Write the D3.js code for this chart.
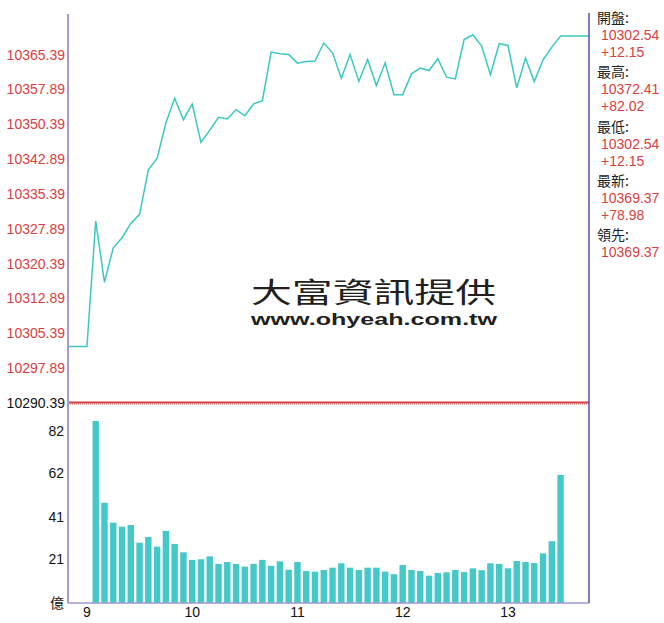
<!DOCTYPE html>
<html>
<head>
<meta charset="utf-8">
<script src="https://cdn.jsdelivr.net/npm/d3@7"></script>
<style>
    body { margin: 0; background: #fff; }
    text { font-family: "Liberation Sans", Arial, sans-serif; }
    .cjk { font-family: "Noto Sans CJK TC", "Noto Sans CJK SC", sans-serif; }
</style>
</head>
<body>
<div class="canvas"></div>
<script>
// Datas
const times = [
    '09:05', '09:10', '09:15', '09:20', '09:25', '09:30', '09:35', '09:40', '09:45', '09:50', '09:55',
    '10:00', '10:05', '10:10', '10:15', '10:20', '10:25', '10:30', '10:35', '10:40', '10:45', '10:50', '10:55',
    '11:00', '11:05', '11:10', '11:15', '11:20', '11:25', '11:30', '11:35', '11:40', '11:45', '11:50', '11:55',
    '12:00', '12:05', '12:10', '12:15', '12:20', '12:25', '12:30', '12:35', '12:40', '12:45', '12:50', '12:55',
    '13:00', '13:05', '13:10', '13:15', '13:20', '13:25', '13:30'
];
const prices = [
    10329.54, 10316.37, 10323.79, 10325.95, 10329.04, 10330.99, 10340.55, 10343.01, 10350.64, 10355.97, 10351.35,
    10354.74, 10346.47, 10349.12, 10351.87, 10351.50, 10353.51, 10352.21, 10354.74, 10355.45, 10365.90, 10365.54, 10365.39,
    10363.53, 10363.87, 10363.96, 10367.85, 10365.75, 10360.29, 10365.39, 10359.60, 10364.31, 10358.69, 10363.59, 10356.75,
    10356.75, 10361.22, 10362.45, 10361.93, 10364.46, 10360.50, 10360.14, 10368.62, 10369.64, 10367.20, 10361.07, 10367.70,
    10367.33, 10358.19, 10364.61, 10359.55, 10364.24, 10366.98, 10369.37
];
const volumes = [
    86.6, 47.7, 38.2, 36.3, 37.1, 28.7, 31.4, 26.8, 34.3, 28.1, 24.1,
    20.5, 20.8, 22.2, 18.6, 19.5, 18.6, 17.3, 18.6, 20.5, 17.7, 19.8,
    15.8, 19.5, 15.2, 14.9, 15.7, 16.8, 18.9, 16.8, 15.7, 16.8, 16.8,
    14.9, 13.7, 18.1, 15.7, 15.2, 13.0, 14.3, 14.6, 15.7, 14.7, 16.5,
    15.6, 18.9, 18.6, 16.5, 20.0, 19.5, 19.0, 23.6, 29.4, 60.9
];
const openPrice = 10302.54;
const refPrice = 10290.39;
const priceTicks = [10297.89, 10305.39, 10312.89, 10320.39, 10327.89, 10335.39, 10342.89, 10350.39, 10357.89, 10365.39];
const volTicks = [21, 41, 62, 82];
const hourTicks = ['09:00', '10:00', '11:00', '12:00', '13:00'];
const hourLabels = ['9', '10', '11', '12', '13'];
const infoLabels = ['開盤:', '最高:', '最低:', '最新:', '領先:'];
const infoValues = ['10302.54', '10372.41', '10302.54', '10369.37', '10369.37'];
const infoChanges = ['+12.15', '+82.02', '+12.15', '+78.98', ''];

const app = {
    dims: {
        svgWidth: 664,
        svgHeight: 623,
        left: 68,
        right: 589,
        top: 14,
        refY: 403,
        bottom: 603,
        volTop: 430.2
    },
    red: '#d8403f',
    teal: '#44c8c8',

    // minutes after 9:00
    toMin: function(s) {
        const [h, m] = s.split(':').map(Number);
        return (h - 9) * 60 + m;
    },

    init: function() {
        const d = app.dims;
        const svg = d3.select('.canvas').append('svg')
            .attr('width', d.svgWidth)
            .attr('height', d.svgHeight);

        // Scales
        const x = d3.scaleLinear().domain([-10.8, 286.2]).range([d.left, d.right]);
        const yP = d3.scaleLinear().domain([refPrice, 10374.1]).range([d.refY, d.top]);
        const yV = d3.scaleLinear().domain([0, 82.2]).range([d.bottom, d.volTop]);

        // Watermark
        svg.append('text').attr('class', 'cjk')
            .attr('x', 251).attr('y', 303)
            .attr('font-size', 28)
            .attr('fill', '#231f20')
            .attr('textLength', 245)
            .attr('lengthAdjust', 'spacingAndGlyphs')
            .text('大富資訊提供');
        svg.append('text')
            .attr('x', 251).attr('y', 325)
            .attr('font-family', 'DejaVu Sans')
            .attr('font-weight', 'bold')
            .attr('font-size', 16)
            .attr('fill', '#231f20')
            .attr('textLength', 246)
            .attr('lengthAdjust', 'spacingAndGlyphs')
            .text('www.ohyeah.com.tw');

        // Volume bars
        svg.append('g').selectAll('rect')
            .data(volumes)
            .enter()
            .append('rect')
            .attr('x', (v, i) => x(app.toMin(times[i])) - 3.2)
            .attr('width', 6.4)
            .attr('y', v => yV(v))
            .attr('height', v => yV(0) - yV(v))
            .attr('fill', app.teal);

        // Price line
        const lineData = [{ t: x.domain()[0], v: openPrice }, { t: 0, v: openPrice }];
        prices.forEach((p, i) => lineData.push({ t: app.toMin(times[i]), v: p }));
        lineData.push({ t: x.domain()[1], v: prices[prices.length - 1] });

        svg.append('path')
            .datum(lineData)
            .attr('fill', 'none')
            .attr('stroke', '#3cc8c2')
            .attr('stroke-width', 1.5)
            .attr('d', d3.line().x(p => x(p.t)).y(p => yP(p.v)));

        // Reference line
        svg.append('line')
            .attr('x1', d.left).attr('x2', d.right)
            .attr('y1', yP(refPrice) - 0.5).attr('y2', yP(refPrice) - 0.5)
            .attr('stroke', app.red).attr('stroke-width', 2);
        svg.append('line')
            .attr('x1', d.left).attr('x2', d.right)
            .attr('y1', yP(refPrice) + 1).attr('y2', yP(refPrice) + 1)
            .attr('stroke', '#b85050').attr('stroke-width', 1)
            .attr('stroke-dasharray', '1,1');

        // Axes lines
        svg.append('line')
            .attr('x1', d.left).attr('x2', d.left)
            .attr('y1', d.top).attr('y2', d.bottom)
            .attr('stroke', '#a39ad8').attr('stroke-width', 2);
        svg.append('line')
            .attr('x1', d.left).attr('x2', d.right)
            .attr('y1', d.bottom).attr('y2', d.bottom)
            .attr('stroke', '#9d97d6').attr('stroke-width', 1.5);
        svg.append('line')
            .attr('x1', d.right).attr('x2', d.right)
            .attr('y1', d.top - 1).attr('y2', d.bottom)
            .attr('stroke', '#5a4fb0').attr('stroke-width', 1.5);

        // Price labels
        svg.append('g').selectAll('text')
            .data(priceTicks)
            .enter()
            .append('text')
            .attr('x', 65).attr('y', v => yP(v))
            .attr('dy', '0.36em')
            .attr('text-anchor', 'end')
            .attr('font-size', 14)
            .attr('fill', app.red)
            .text(v => v.toFixed(2));
        svg.append('text')
            .attr('x', 65).attr('y', yP(refPrice))
            .attr('dy', '0.36em')
            .attr('text-anchor', 'end')
            .attr('font-size', 14)
            .attr('fill', '#111')
            .text(refPrice.toFixed(2));

        // Volume labels
        svg.append('g').selectAll('text')
            .data(volTicks)
            .enter()
            .append('text')
            .attr('x', 64).attr('y', v => yV(v))
            .attr('dy', '0.36em')
            .attr('text-anchor', 'end')
            .attr('font-size', 14)
            .attr('fill', '#111')
            .text(v => v);
        svg.append('text').attr('class', 'cjk')
            .attr('x', 64).attr('y', yV(0))
            .attr('dy', '0.36em')
            .attr('text-anchor', 'end')
            .attr('font-size', 14)
            .attr('fill', '#111')
            .text('億');

        // Hour labels
        svg.append('g').selectAll('text')
            .data(hourTicks)
            .enter()
            .append('text')
            .attr('x', t => x(app.toMin(t)))
            .attr('y', 612)
            .attr('dy', '0.36em')
            .attr('text-anchor', 'middle')
            .attr('font-size', 14)
            .attr('fill', '#111')
            .text((t, i) => hourLabels[i]);

        // Info panel
        const info = svg.append('g').selectAll('g')
            .data(infoLabels)
            .enter()
            .append('g')
            .attr('transform', (l, i) => `translate(0, ${18 + i * 54.25})`);
        info.append('text').attr('class', 'cjk')
            .attr('x', 597).attr('dy', '0.36em')
            .attr('font-size', 14).attr('fill', '#222')
            .text(l => l);
        info.append('text')
            .attr('x', 601).attr('y', 17).attr('dy', '0.36em')
            .attr('font-size', 14).attr('fill', app.red)
            .text((l, i) => infoValues[i]);
        info.append('text')
            .attr('x', 601).attr('y', 34).attr('dy', '0.36em')
            .attr('font-size', 14).attr('fill', app.red)
            .text((l, i) => infoChanges[i]);
    }
};

document.addEventListener('DOMContentLoaded', app.init);
</script>
</body>
</html>
